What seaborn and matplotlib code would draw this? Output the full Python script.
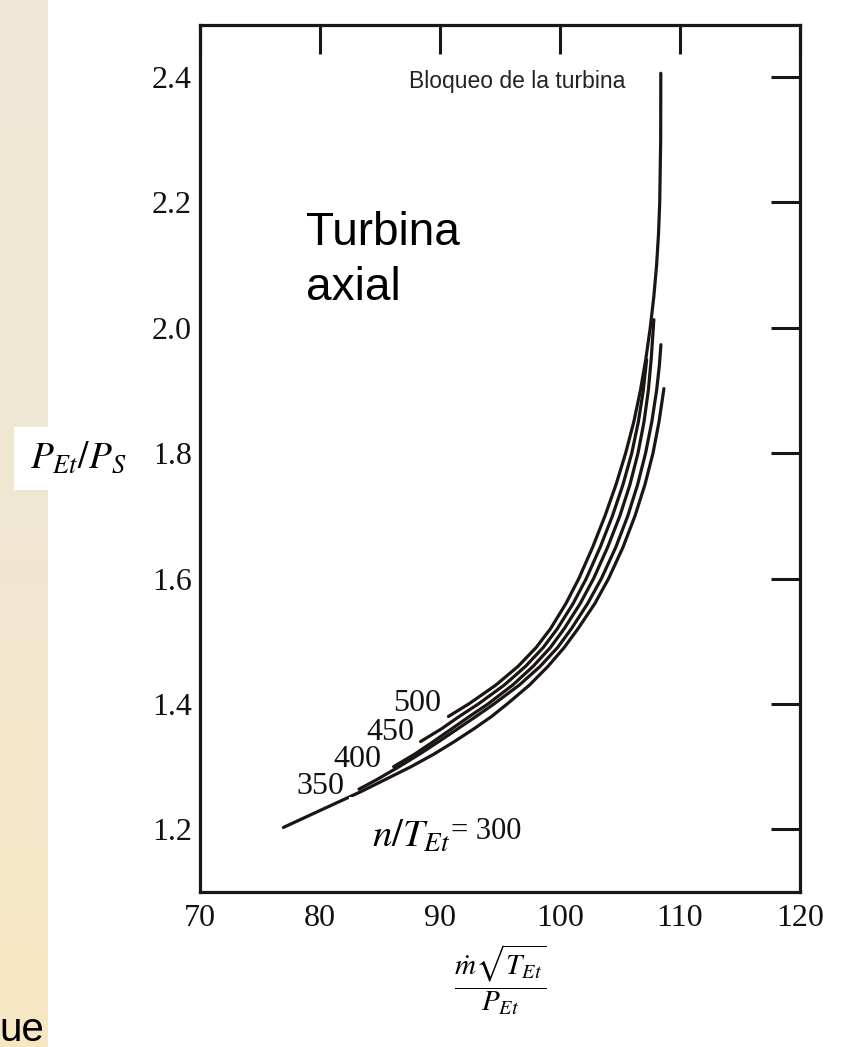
import numpy as np
import pandas as pd
import matplotlib
matplotlib.use("Agg")
import matplotlib.pyplot as plt
from matplotlib.colors import LinearSegmentedColormap
from matplotlib.patches import Rectangle
import seaborn as sns

# Corrected speed n/sqrt(T_Et) of each characteristic line
speeds = [300, 350, 400, 450, 500]

# Corrected mass flow (x) and expansion ratio P_Et/P_S (y) along each line
flow_300 = [76.95, 80.0, 83.4, 85.5, 87.6, 89.5, 91.2, 92.8, 94.3, 95.6, 97.45, 99.0, 100.35,
            101.5, 102.9, 104.05, 105.25, 106.25, 107.08, 107.75, 108.25, 108.66]
ratio_300 = [1.203, 1.230, 1.260, 1.280, 1.300, 1.320, 1.340, 1.360, 1.380, 1.400, 1.430, 1.460,
             1.490, 1.520, 1.560, 1.600, 1.650, 1.700, 1.750, 1.800, 1.850, 1.903]

flow_350 = [83.25, 84.8, 86.6, 88.3, 89.9, 91.45, 93.0, 94.5, 96.6, 98.35, 99.8, 100.95, 102.3,
            103.45, 104.65, 105.65, 106.47, 107.13, 107.65, 108.05, 108.28, 108.41]
ratio_350 = [1.264, 1.280, 1.300, 1.320, 1.340, 1.360, 1.380, 1.400, 1.430, 1.460, 1.490, 1.520,
             1.560, 1.600, 1.650, 1.700, 1.750, 1.800, 1.850, 1.900, 1.940, 1.973]

flow_400 = [86.14, 87.9, 89.45, 90.95, 92.45, 94.0, 96.05, 97.76, 99.2, 100.35, 101.68, 102.8,
            103.97, 104.99, 105.83, 106.5, 107.0, 107.36, 107.6, 107.82]
ratio_400 = [1.300, 1.320, 1.340, 1.360, 1.380, 1.400, 1.430, 1.460, 1.490, 1.520, 1.560, 1.600,
             1.650, 1.700, 1.750, 1.800, 1.850, 1.900, 1.950, 2.013]

flow_450 = [88.38, 90.1, 91.6, 93.2, 95.35, 97.13, 98.6, 99.78, 101.09, 102.19, 103.35, 104.37,
            105.25, 105.98, 106.53, 106.94, 107.22]
ratio_450 = [1.340, 1.360, 1.380, 1.400, 1.430, 1.460, 1.490, 1.520, 1.560, 1.600, 1.650, 1.700,
             1.750, 1.800, 1.850, 1.900, 1.949]

flow_500 = [90.70, 92.40, 94.65, 96.51, 98.01, 99.21, 100.49, 101.57, 102.72, 103.75, 104.67,
            105.47, 106.15, 106.70, 107.15, 107.52, 107.82, 108.05, 108.21, 108.31, 108.39,
            108.40]
ratio_500 = [1.380, 1.400, 1.430, 1.460, 1.490, 1.520, 1.560, 1.600, 1.650, 1.700, 1.750,
             1.800, 1.850, 1.900, 1.950, 2.000, 2.050, 2.100, 2.150, 2.200, 2.300, 2.406]

x_ticks = [70, 80, 90, 100, 110, 120]
x_tick_labels = ["70", "80", "90", "100", "110", "120"]
y_ticks = [1.2, 1.4, 1.6, 1.8, 2.0, 2.2, 2.4]
y_tick_labels = ["1.2", "1.4", "1.6", "1.8", "2.0", "2.2", "2.4"]

flows = {300: flow_300, 350: flow_350, 400: flow_400, 450: flow_450, 500: flow_500}
ratios = {300: ratio_300, 350: ratio_350, 400: ratio_400, 450: ratio_450, 500: ratio_500}

frames = []
for s in speeds:
    frames.append(pd.DataFrame({"flow": flows[s], "ratio": ratios[s], "speed": s}))
df = pd.concat(frames, ignore_index=True)

sns.set_theme(style="white")
plt.rcParams["font.family"] = ["Liberation Serif", "DejaVu Serif"]
plt.rcParams["mathtext.fontset"] = "stix"

W, H = 858, 1047
fig = plt.figure(figsize=(W / 100, H / 100), dpi=100)
fig.patch.set_facecolor("white")

# beige side strip of the slide
strip = fig.add_axes([0, 0, 48 / W, 1])
grad = np.linspace(0, 1, 256)[:, None]
cmap = LinearSegmentedColormap.from_list("strip", ["#EEE8D6", "#F0E7D2", "#F8E6C2"])
strip.imshow(grad, aspect="auto", cmap=cmap, extent=[0, 1, 0, 1], origin="upper")
strip.axis("off")

ink = "#1b1613"
ax = fig.add_axes([200 / W, 155 / H, 600 / W, 867 / H])
ax.set_facecolor("white")
sns.lineplot(data=df, x="flow", y="ratio", units="speed", estimator=None, sort=False,
             color=ink, lw=2.3, ax=ax, legend=False)

ax.set_xlim(70, 120)
ax.set_ylim(1.1, 2.483)
ax.set_xticks(x_ticks)
ax.set_xticklabels(x_tick_labels)
ax.set_yticks(y_ticks)
ax.set_yticklabels(y_tick_labels)
ax.set_xlabel("")
ax.set_ylabel("")
ax.tick_params(axis="both", direction="in", length=21, width=2.2, colors=ink,
               labelsize=23, top=True, right=True, labelcolor="#111111")
ax.tick_params(axis="x", pad=9)
ax.tick_params(axis="y", pad=6)
for sp in ax.spines.values():
    sp.set_visible(True)
    sp.set_linewidth(2.3)
    sp.set_color(ink)

# speed labels at the start of each line
speed_label_pos = {350: (80.02, 1.269), 400: (83.08, 1.312), 450: (85.89, 1.355), 500: (88.13, 1.400)}
for s, (lx, ly) in speed_label_pos.items():
    ax.text(lx, ly, str(s), fontsize=23, ha="center", va="center", color="#111111")

# white patch carrying the n/T_Et annotation
ax.add_patch(Rectangle((82.42, 1.128), 8.44, 0.123, facecolor="white", edgecolor="none",
                       zorder=3))
ax.text(84.32, 1.172, r"$n/T_{Et}$", fontsize=28, ha="left", va="baseline", zorder=4,
        color="black")
ax.text(90.94, 1.197, "= 300", fontsize=22, ha="left", va="center", zorder=4, color="#111111")

ax.text(87.38, 2.3825, "Bloqueo de la turbina", family=["Liberation Sans", "DejaVu Sans"],
        fontsize=16.5, ha="left", va="baseline", color="#222222")
ax.text(78.86, 2.132, "Turbina", family=["Liberation Sans", "DejaVu Sans"], fontsize=33,
        ha="left", va="baseline", color="black")
ax.text(78.86, 2.044, "axial", family=["Liberation Sans", "DejaVu Sans"], fontsize=33,
        ha="left", va="baseline", color="black")

# y-axis label box
fig.patches.append(Rectangle((14 / W, 1 - 490 / H), 143 / W, 63 / H, transform=fig.transFigure,
                             facecolor="white", edgecolor="none", zorder=5))
fig.text(78 / W, 1 - 458 / H, r"$P_{Et}/P_S$", fontsize=27, ha="center", va="center",
         zorder=6, color="black")

# x-axis label
fig.text(500 / W, 1 - 980 / H, r"$\dfrac{\dot{m}\sqrt{T_{Et}}}{P_{Et}}$", fontsize=21,
         ha="center", va="center", color="black")

fig.text(-1 / W, 1 - 1041 / H, "ue", family=["Liberation Sans", "DejaVu Sans"], fontsize=29,
         ha="left", va="baseline", color="black")

fig.savefig("out.png", dpi=100, facecolor="white")
